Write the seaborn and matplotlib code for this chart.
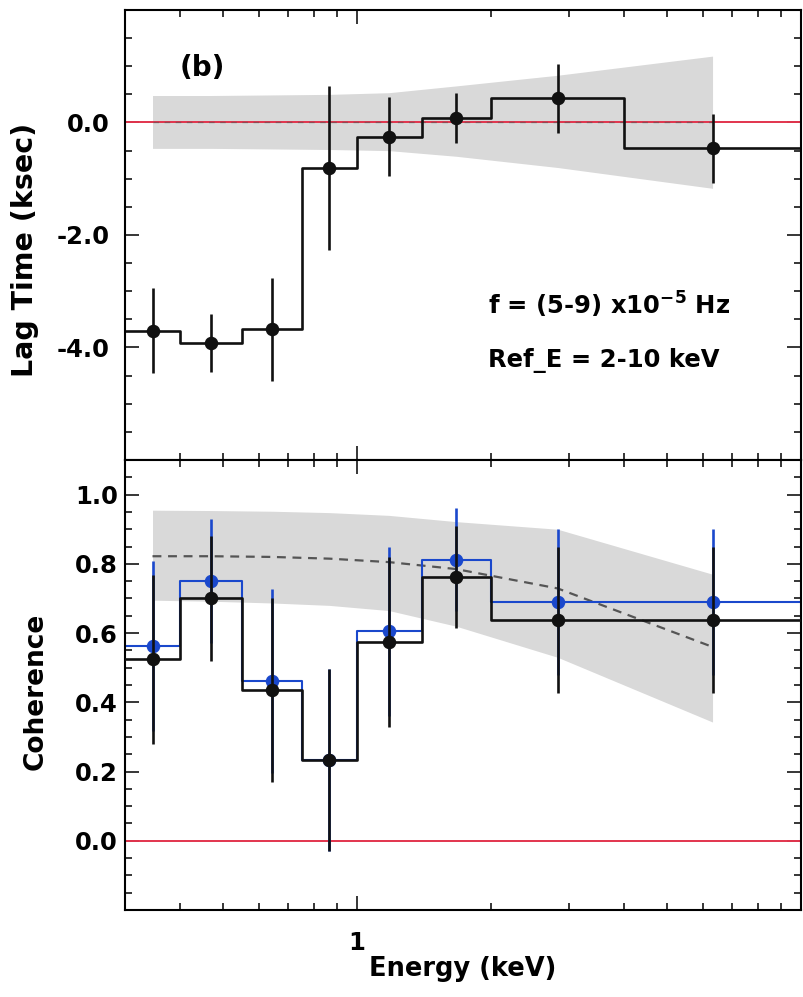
import numpy as np
import pandas as pd
import matplotlib
matplotlib.use("Agg")
import matplotlib.pyplot as plt
from matplotlib.ticker import FixedLocator, MultipleLocator, NullFormatter, FixedFormatter
import seaborn as sns

# ---- energy binning (keV) ----
e_edges = [0.3, 0.4, 0.55, 0.75, 1.0, 1.4, 2.0, 4.0, 10.0]
e_center = [0.346, 0.469, 0.642, 0.866, 1.18, 1.67, 2.83, 6.32]

# ---- lag spectrum (ksec) ----
lag = [-3.70, -3.92, -3.68, -0.81, -0.25, 0.08, 0.43, -0.46]
lag_err = [0.75, 0.52, 0.92, 1.45, 0.70, 0.45, 0.61, 0.61]
lag_band_hi = [0.48, 0.48, 0.49, 0.50, 0.53, 0.65, 0.84, 1.18]
lag_band_lo = [-0.46, -0.46, -0.47, -0.48, -0.50, -0.60, -0.80, -1.17]
lag_model = [0.0, 0.0, 0.0, 0.0, 0.0, 0.0, 0.0, 0.0]

# ---- coherence ----
coh_raw = [0.524, 0.700, 0.435, 0.233, 0.574, 0.762, 0.638, 0.638]
coh_int = [0.562, 0.750, 0.462, 0.233, 0.605, 0.812, 0.690, 0.690]
coh_err = [0.245, 0.180, 0.265, 0.262, 0.245, 0.148, 0.210, 0.210]
coh_model = [0.822, 0.822, 0.820, 0.815, 0.805, 0.785, 0.729, 0.560]
coh_band_hi = [0.955, 0.954, 0.952, 0.948, 0.940, 0.922, 0.900, 0.770]
coh_band_lo = [0.695, 0.692, 0.687, 0.680, 0.665, 0.620, 0.530, 0.343]

x_ticks_minor = [0.4, 0.5, 0.6, 0.7, 0.8, 0.9, 2, 3, 4, 5, 6, 7, 8, 9]

sns.set_style("ticks")
plt.rcParams["font.family"] = ["DejaVu Sans"]
plt.rcParams["font.weight"] = "bold"
plt.rcParams["text.color"] = "black"
plt.rcParams["xtick.color"] = "black"
plt.rcParams["ytick.color"] = "black"
plt.rcParams["axes.unicode_minus"] = False
plt.rcParams["mathtext.fontset"] = "dejavusans"

W, H = 804, 997
fig = plt.figure(figsize=(W / 100, H / 100), dpi=100)

def fx(px):
    return px / W

def fy(py):
    return 1 - py / H

left, right = 125, 801
ax1 = fig.add_axes([fx(left), fy(460), fx(right - left), (460 - 10) / H])
ax2 = fig.add_axes([fx(left), fy(910), fx(right - left), (910 - 460) / H])

BAND = "#d9d9d9"
RED = "#e2344d"
BLUE = "#1a48cc"
BLACK = "#111111"


def steps(ax, vals, color, lw, z):
    df = pd.DataFrame({"E": e_edges, "v": list(vals) + [vals[-1]]})
    sns.lineplot(data=df, x="E", y="v", ax=ax, color=color, lw=lw,
                 drawstyle="steps-post", estimator=None, sort=False, zorder=z)


def points(ax, vals, err, color, z):
    ax.errorbar(e_center, vals, yerr=err, fmt="none", ecolor=color,
                elinewidth=1.9, capsize=0, zorder=z)
    sns.scatterplot(x=e_center, y=vals, ax=ax, color=color, s=95,
                    edgecolor=color, linewidth=0, zorder=z + 0.5)


# ---- top panel: lag ----
ax1.fill_between(e_center, lag_band_lo, lag_band_hi, color=BAND, lw=0, zorder=0)
ax1.axhline(0, color=RED, lw=1.4, zorder=1)
ax1.plot(e_center, lag_model, color="#555555", lw=1.0, ls=(0, (4, 4)),
         alpha=0.55, zorder=1.2)
steps(ax1, lag, BLACK, 1.9, 2)
points(ax1, lag, lag_err, BLACK, 3)

# ---- bottom panel: coherence ----
ax2.fill_between(e_center, coh_band_lo, coh_band_hi, color=BAND, lw=0, zorder=0)
ax2.axhline(0, color=RED, lw=1.4, zorder=1)
ax2.plot(e_center, coh_model, color="#555555", lw=1.6, ls=(0, (4, 3)), zorder=1.5)
steps(ax2, coh_int, BLUE, 1.5, 2)
points(ax2, coh_int, coh_err, BLUE, 3)
steps(ax2, coh_raw, BLACK, 1.9, 4)
points(ax2, coh_raw, coh_err, BLACK, 5)

for ax in (ax1, ax2):
    ax.set_xscale("log")
    ax.set_xlim(0.3, 10)
    ax.xaxis.set_major_locator(FixedLocator([1, 10]))
    ax.xaxis.set_minor_locator(FixedLocator(x_ticks_minor))
    ax.xaxis.set_minor_formatter(NullFormatter())
    ax.set_xlabel("")
    ax.set_ylabel("")
    for s in ax.spines.values():
        s.set_visible(True)
        s.set_linewidth(1.5)
        s.set_color("black")
    ax.tick_params(which="both", direction="in", top=True, right=True,
                   bottom=True, left=True, width=1.1, color="black",
                   labelcolor="black", labelsize=17.5)
    ax.tick_params(which="major", length=10)
    ax.tick_params(which="minor", length=5)

ax1.set_ylim(-6, 2)
ax1.yaxis.set_major_locator(FixedLocator([-4, -2, 0]))
ax1.yaxis.set_major_formatter(FixedFormatter(["-4.0", "-2.0", "0.0"]))
ax1.yaxis.set_minor_locator(MultipleLocator(0.5))
ax1.tick_params(axis="y", which="major", pad=11)
ax1.xaxis.set_major_formatter(NullFormatter())

ax2.set_ylim(-0.2, 1.1)
ax2.yaxis.set_major_locator(FixedLocator([0.0, 0.2, 0.4, 0.6, 0.8, 1.0]))
ax2.yaxis.set_major_formatter(FixedFormatter(["0.0", "0.2", "0.4", "0.6", "0.8", "1.0"]))
ax2.yaxis.set_minor_locator(MultipleLocator(0.05))
ax2.tick_params(axis="y", which="major", pad=5)
ax2.xaxis.set_major_formatter(FixedFormatter(["1", ""]))
ax2.tick_params(axis="x", which="major", pad=15)

# ---- labels and annotations ----
fig.text(fx(33), fy(250), "Lag Time (ksec)", rotation=90, rotation_mode="anchor",
         ha="center", va="baseline", fontsize=20.5, fontweight="bold")
fig.text(fx(43), fy(691), "Coherence", rotation=90, rotation_mode="anchor",
         ha="center", va="baseline", fontsize=19, fontweight="bold")
fig.text(fx(463), fy(976), "Energy (keV)", ha="center", va="baseline",
         fontsize=18.5, fontweight="bold")
fig.text(fx(180), fy(68), "(b)", ha="left", va="center",
         fontsize=20, fontweight="bold")
fig.text(fx(488), fy(315), r"f = (5-9) x10$^{\mathbf{-5}}$ Hz", ha="left",
         va="baseline", fontsize=17.5, fontweight="bold")
fig.text(fx(488), fy(367), "Ref_E = 2-10 keV", ha="left", va="baseline",
         fontsize=17.5, fontweight="bold")

fig.savefig("out.png", dpi=100)
